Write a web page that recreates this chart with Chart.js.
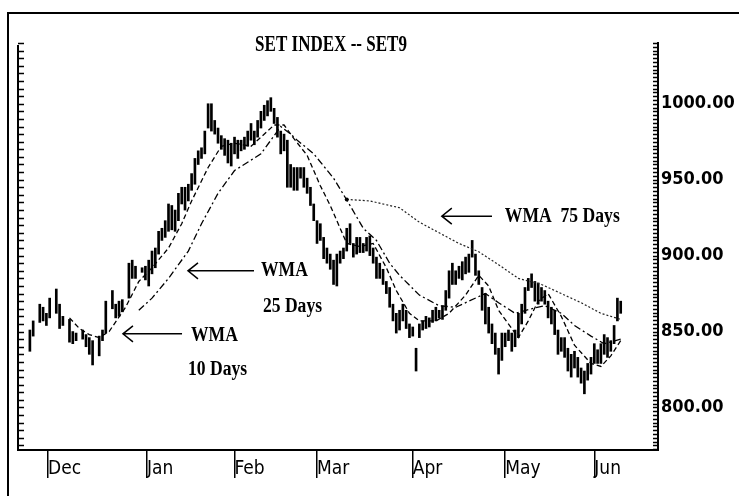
<!DOCTYPE html>
<html><head><meta charset="utf-8">
<script src="https://cdn.jsdelivr.net/npm/chart.js@4.4.1/dist/chart.umd.min.js"></script>
<style>html,body{margin:0;padding:0;background:#fff;overflow:hidden}canvas{display:block}</style>
</head><body>
<canvas id="c" width="739" height="496"></canvas>
<script>
// ---- data (trading-day position, index level) ----
const barDays = [0,1,3,4,5,6,8,9,10,12,13,14,16,17,18,19,21,22,23,25,26,27,28,30,31,32,34,
35,36,37,38,39,40,41,42,43,44,45,46,47,48,49,50,51,52,53,54,55,56,57,58,59,60,61,62,63,64,65,66,67,68,69,70,
71,72,73,74,75,76,77,78,79,80,81,82,83,84,85,86,87,88,89,90,91,92,93,94,95,96,97,98,99,100,101,102,103,104,105,
106,107,108,109,110,111,112,113,114,115,116,117,118,119,120,121,122,123,124,125,126,127,128,129,130,131,132,133,
134,135,136,137,138,139,140,141,142,143,144,145,146,147,148,149,150,151,152,153,154,155,156,157,158,159,160,161,
162,163,164,165,166,167,168,169,170,171,172,173,174,175,176,177,178,179];
const barHigh = [851,857,868,866,862,872,878,868,860,858,850,849,851,848,846,844,847,851,870,877,868,870,871,895,897,893,892,
893,897,903,905,916,918,923,934,933,930,941,945,945,947,954,964,969,971,982,1000,
1000,989,984,979,977,976,974,978,976,976,978,982,987,982,989,995,999,1002,1004,997,
991,982,980,976,960,958,958,958,958,951,945,934,923,921,912,905,901,897,901,903,
905,918,921,908,912,912,908,912,913,905,899,895,891,883,879,868,862,864,868,864,
855,853,839,855,857,860,859,864,866,864,867,877,890,895,890,893,896,899,901,910,
901,890,879,875,866,855,849,839,849,849,851,849,851,862,868,879,885,888,883,882,
879,877,870,866,864,851,846,846,839,835,837,833,826,824,829,833,842,838,842,848,846,844,854,872,870];
const barLow = [837,847,856,857,854,859,862,852,854,843,842,844,845,840,835,828,834,844,849,865,859,860,863,872,885,885,889,
884,880,888,892,901,910,912,916,917,916,923,934,930,936,943,947,960,964,967,984,
982,980,974,970,966,961,959,967,964,969,970,972,976,973,978,984,989,992,995,987,
978,967,969,945,945,943,943,951,945,941,933,923,908,910,898,895,891,881,880,895,
898,903,908,899,901,902,902,903,900,895,885,885,881,875,866,857,849,851,857,852,
846,847,824,846,851,852,853,856,857,859,858,864,872,881,881,885,884,888,889,899,
887,881,864,855,849,842,835,822,831,840,844,837,840,846,855,862,877,879,870,868,
870,868,859,855,848,835,837,833,824,820,826,820,816,809,818,822,829,829,829,835,833,837,842,857,862];

const wma10Days = [12,15,18,21,24,29,33,37,42,46,49,54,58,62,67,70,74,77,80,84,88,91,96,100,104,108,111,115,118,123,127,132,136,139,142,146,148,151,154,157,161,165,170,173,176,179];
const wma10Values = [859,852,848,846,850,866,883,892,905,921,936,958,972,974,972,978,986,986,977,966,946,933,908,906,908,892,877,862,857,857,862,874,887,880,864,852,846,857,870,875,860,841,829,827,834,844];

const wma25Days = [33,37,42,48,52,57,62,70,76,79,81,86,92,97,101,105,109,112,118,124,129,133,138,142,147,152,156,161,165,170,174,179];
const wma25Values = [864,872,885,903,921,941,956,967,985,980,976,967,951,933,918,910,895,887,874,867,866,870,875,869,862,865,867,862,854,847,842,845];

const wma75Days = [96,103,112,118,124,130,136,142,148,155,161,167,173,179];
const wma75Values = [937,936,931.5,922,915,908,902.5,894,885,881,875,869,862,858];

const monthLabels = ['Dec','Jan','Feb','Mar','Apr','May','Jun'];
const monthStarts = [5.5,35.5,62,87,116,144,171];
const yLabelValues = [800,850,900,950,1000];

const titleText = 'SET INDEX -- SET9';
const notes = [
  {tip:[124.8,926], tail:140, texts:[['WMA  75 Days',143.9,925.6]]},
  {tip:[47.9,890], tail:67.9, texts:[['WMA',70,890],['25 Days',70.6,866.3]]},
  {tip:[28.2,848.5], tail:46.1, texts:[['WMA',48.8,847.2],['10 Days',47.9,824.8]]}
];

const NARROW = '"DejaVu Sans Condensed","Liberation Sans",sans-serif';
const SERIF = '"Liberation Serif","DejaVu Serif",serif';

function drawCondensed(ctx, text, x, y, sx, align){
  ctx.save();
  ctx.translate(x, y);
  ctx.scale(sx, 1);
  ctx.textAlign = align || 'left';
  ctx.textBaseline = 'middle';
  ctx.fillText(text, 0, 0);
  ctx.restore();
}

const decor = {
  id:'decor',
  afterDraw(chart){
    const {ctx, chartArea:a, scales:{x, y}} = chart;
    ctx.save();
    ctx.strokeStyle = '#000'; ctx.fillStyle = '#000';
    // outer frame
    ctx.lineWidth = 2;
    ctx.beginPath();
    ctx.moveTo(7, 13); ctx.lineTo(739, 13);
    ctx.moveTo(8, 13); ctx.lineTo(8, 496);
    ctx.stroke();
    // left axis
    ctx.beginPath(); ctx.moveTo(a.left, a.top + 2); ctx.lineTo(a.left, a.bottom); ctx.stroke();
    // inward tick marks
    ctx.lineWidth = 1.5;
    ctx.beginPath();
    for (let v = Math.ceil(y.min / 5) * 5; v <= y.max; v += 5) {
      const py = Math.round(y.getPixelForValue(v)) + 0.5;
      ctx.moveTo(a.left, py); ctx.lineTo(a.left + 6, py);
    }
    for (let v = Math.ceil(y.min / 2.5) * 2.5; v <= y.max; v += 2.5) {
      const py = Math.round(y.getPixelForValue(v)) + 0.5;
      ctx.moveTo(a.right - 5, py); ctx.lineTo(a.right, py);
    }
    ctx.stroke();
    // title
    ctx.font = 'bold 23px ' + SERIF;
    drawCondensed(ctx, titleText, (a.left + a.right) / 2 - 7, a.top + 2, 0.74, 'center');
    // annotations
    ctx.lineWidth = 1.5;
    ctx.font = 'bold 20px ' + SERIF;
    notes.forEach(n => {
      const tx = x.getPixelForValue(n.tip[0]), ty = y.getPixelForValue(n.tip[1]);
      const ex = x.getPixelForValue(n.tail);
      ctx.beginPath();
      ctx.moveTo(tx, ty); ctx.lineTo(ex, ty);
      ctx.moveTo(tx + 10, ty - 8); ctx.lineTo(tx, ty); ctx.lineTo(tx + 10, ty + 8);
      ctx.stroke();
      n.texts.forEach(t => drawCondensed(ctx, t[0], x.getPixelForValue(t[1]), y.getPixelForValue(t[2]), 0.88, 'left'));
    });
    ctx.restore();
  }
};

new Chart(document.getElementById('c'), {
  type: 'bar',
  data: {
    datasets: [
      {type:'line', label:'WMA 10 Days', data: wma10Days.map((d,i)=>({x:d, y:wma10Values[i]})),
        borderColor:'#000', borderWidth:1.3, borderDash:[5,3], pointRadius:0, fill:false, tension:0},
      {type:'line', label:'WMA 25 Days', data: wma25Days.map((d,i)=>({x:d, y:wma25Values[i]})),
        borderColor:'#000', borderWidth:1.3, borderDash:[7,3,2,3], pointRadius:0, fill:false, tension:0},
      {type:'line', label:'WMA 75 Days', data: wma75Days.map((d,i)=>({x:d, y:wma75Values[i]})),
        borderColor:'#222', borderWidth:1.2, borderDash:[2,2], fill:false, tension:0,
        pointRadius: c => c.dataIndex === 0 ? 2 : 0, pointBackgroundColor:'#000', pointBorderWidth:0},
      {type:'bar', label:'SET', data: barDays.map((d,i)=>({x:d, y:[barLow[i], barHigh[i]]})),
        backgroundColor:'#000', borderWidth:0, barThickness:2, grouped:false}
    ]
  },
  options: {
    responsive:false, animation:false,
    layout:{padding:{left:18, top:43, right:0, bottom:0}},
    plugins:{legend:{display:false}, tooltip:{enabled:false}, title:{display:false}},
    scales:{
      x:{type:'linear', min:-3.6, max:190.3, offset:false,
        grid:{display:true, offset:false, drawOnChartArea:false, drawTicks:true, tickLength:28, color:'#000', lineWidth:1.5},
        border:{display:true, color:'#000', width:2},
        afterBuildTicks: s => { s.ticks = monthStarts.map(v => ({value:v})); },
        afterFit: s => { s.height = 46; },
        ticks:{autoSkip:false, align:'start', padding:-20, maxRotation:0, color:'#000',
          font:{family:NARROW, size:19}, callback:(v,i) => monthLabels[i]}
      },
      y:{type:'linear', position:'right', min:772, max:1040,
        grid:{display:false, drawTicks:false, tickLength:0},
        border:{display:true, color:'#000', width:2},
        afterBuildTicks: s => { s.ticks = yLabelValues.map(v => ({value:v})); },
        afterFit: s => { s.width = 81; },
        ticks:{autoSkip:false, padding:3, color:'#000', font:{family:NARROW, size:18, weight:'bold'},
          callback: v => Number(v).toFixed(2)}
      }
    }
  },
  plugins:[decor]
});
</script>
</body></html>
